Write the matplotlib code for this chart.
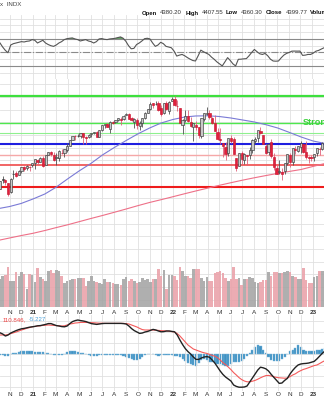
import numpy as np
import pandas as pd
import matplotlib
matplotlib.use('Agg')
import matplotlib.pyplot as plt

plt.rcParams['font.family'] = ['Liberation Sans', 'DejaVu Sans']

BASE = pd.Timestamp('2021-01-01')
FIRST_WEEK = '2020-10-07'

# weekly OHLC, Oct 2020 .. Jan 2023
opens = [3350, 3500, 3494, 3441, 3297, 3583, 3600, 3566, 3634, 3694, 3675, 3694, 3723,
         3764, 3803, 3781, 3836, 3731, 3892, 3939, 3886, 3842, 3844, 3913, 3917, 3969,
         4034, 4125, 4179, 4185, 4192, 4228, 4169, 4170, 4216, 4229, 4248, 4173, 4285,
         4356, 4372, 4296, 4409, 4406, 4438, 4462, 4450, 4514, 4535, 4474, 4403, 4442,
         4349, 4385, 4464, 4553, 4610, 4701, 4689, 4712, 4628, 4548, 4711, 4587, 4733,
         4778, 4655, 4632, 4357, 4431, 4506, 4412, 4332, 4354, 4327, 4188, 4462, 4541,
         4547, 4474, 4385, 4255, 4131, 4081, 4013, 3920, 4149, 4134, 3838, 3715, 3920,
         3800, 3880, 3883, 3965, 4112, 4155, 4270, 4195, 4034, 3930, 4084, 3849, 3683,
         3610, 3619, 3638, 3755, 3882, 3781, 3977, 3956, 4005, 4053, 3940, 3853, 3843,
         3853, 3910, 3987, 3979, 4071]
highs = [3482, 3550, 3502, 3441, 3529, 3646, 3628, 3644, 3699, 3713, 3726, 3711, 3760,
         3827, 3823, 3860, 3870, 3887, 3935, 3950, 3929, 3915, 3960, 3983, 3978, 4083,
         4130, 4191, 4194, 4218, 4238, 4237, 4188, 4218, 4234, 4255, 4262, 4286, 4356,
         4372, 4394, 4416, 4430, 4441, 4470, 4480, 4513, 4545, 4549, 4492, 4466, 4466,
         4416, 4475, 4560, 4608, 4718, 4708, 4743, 4744, 4672, 4713, 4731, 4740, 4808,
         4818, 4749, 4632, 4453, 4595, 4590, 4490, 4385, 4416, 4327, 4465, 4546, 4637,
         4593, 4480, 4513, 4308, 4308, 4081, 4090, 4158, 4204, 4168, 3838, 3913, 3946,
         3919, 3880, 4012, 4140, 4167, 4280, 4325, 4203, 4062, 4077, 4140, 3912, 3733,
         3806, 3685, 3762, 3905, 3911, 4001, 4028, 4034, 4101, 4053, 4101, 3876, 3878,
         3906, 4003, 4015, 4095, 4195]
lows = [3341, 3442, 3413, 3234, 3280, 3511, 3543, 3565, 3594, 3633, 3648, 3636, 3703,
        3663, 3749, 3780, 3694, 3725, 3880, 3865, 3789, 3723, 3795, 3894, 3853, 3936,
        4034, 4119, 4118, 4164, 4157, 4057, 4061, 4161, 4168, 4218, 4165, 4165, 4271,
        4309, 4327, 4233, 4373, 4385, 4416, 4367, 4443, 4513, 4457, 4427, 4306, 4289,
        4279, 4329, 4447, 4546, 4596, 4630, 4672, 4585, 4495, 4532, 4600, 4532, 4733,
        4662, 4582, 4395, 4222, 4413, 4401, 4327, 4114, 4279, 4157, 4161, 4424, 4517,
        4450, 4381, 4267, 4124, 4062, 3859, 3811, 3875, 4074, 3900, 3637, 3705, 3741,
        3743, 3722, 3818, 3913, 4080, 4087, 4218, 4057, 3907, 3886, 3838, 3647, 3584,
        3591, 3491, 3590, 3735, 3698, 3733, 3906, 3938, 3918, 3918, 3827, 3764, 3784,
        3794, 3877, 3885, 3961, 4049]
closes = [3477, 3484, 3465, 3270, 3510, 3585, 3558, 3638, 3699, 3663, 3709, 3703, 3756,
          3825, 3768, 3841, 3714, 3887, 3934, 3907, 3811, 3842, 3943, 3913, 3975, 4020,
          4129, 4185, 4180, 4181, 4232, 4174, 4156, 4204, 4230, 4247, 4166, 4281, 4352,
          4370, 4327, 4412, 4395, 4437, 4468, 4442, 4509, 4535, 4459, 4433, 4455, 4357,
          4391, 4471, 4545, 4605, 4697, 4683, 4698, 4595, 4538, 4712, 4620, 4726, 4766,
          4677, 4662, 4398, 4432, 4500, 4419, 4349, 4385, 4329, 4204, 4463, 4543, 4546,
          4488, 4392, 4272, 4132, 4123, 4024, 3901, 4158, 4108, 3901, 3675, 3911, 3825,
          3899, 3863, 3962, 4130, 4145, 4280, 4228, 4058, 3924, 4067, 3873, 3693, 3586,
          3640, 3583, 3753, 3901, 3771, 3993, 3965, 4027, 4071, 3934, 3852, 3845, 3840,
          3895, 3999, 3973, 4071, 4136]

# weekly volume, billions of shares
volume = [14.0, 15.6, 16.0, 19.8, 13.2, 13.2, 17.6, 15.4, 17.6, 16.5,
          9.0, 16.5, 16.0, 12.4, 19.6, 14.8, 14.0, 13.2, 18.2, 18.6,
          17.0, 18.5, 18.0, 15.6, 12.0, 13.2, 13.6, 14.0, 14.0, 14.4,
          14.4, 14.4, 10.4, 13.2, 15.4, 13.0, 12.4, 12.0, 11.5, 14.0,
          12.6, 12.4, 12.0, 11.6, 11.5, 11.0, 14.0, 14.8, 13.0, 14.0,
          13.2, 11.8, 12.6, 14.5, 13.5, 14.0, 12.6, 14.0, 14.0, 19.0,
          15.6, 18.5, 9.0, 16.0, 16.0, 15.4, 13.6, 20.2, 18.2, 15.6,
          15.4, 14.4, 19.0, 19.0, 19.0, 14.4, 13.2, 15.2, 13.2, 13.2,
          17.0, 17.4, 18.2, 17.0, 14.5, 13.2, 14.0, 20.2, 14.0, 14.5,
          11.0, 14.0, 14.0, 14.8, 14.4, 12.4, 12.0, 12.4, 13.6, 13.6,
          17.6, 15.4, 17.6, 17.4, 16.8, 17.0, 17.6, 18.2, 17.4, 15.6,
          14.8, 14.0, 14.0, 19.4, 13.6, 12.0, 12.0, 14.8, 15.4, 18.2,
          18.2, 15.5]

rsi = [64, 58, 53, 49.5, 61, 63, 64, 65, 66, 65.5,
       66.5, 67, 69, 68, 64, 66, 68, 64, 61.7, 60,
       59, 61, 64, 66, 69, 70.4, 71, 71.5, 70, 69,
       67, 68, 69, 67, 66, 64, 66, 70, 70.5, 69.5,
       69, 70, 70.4, 71, 72, 73, 71, 66.5, 60, 55.4,
       56, 61.7, 64, 67, 70.4, 71, 70, 64, 59, 61,
       65, 63, 59, 58, 56.9, 52, 44.6, 46, 47, 45,
       42.3, 40, 38, 37.3, 45, 53.4, 51, 49, 47, 43,
       39.8, 36, 33, 30, 36, 42.3, 38, 33, 30, 39.8,
       40, 40.5, 40.8, 45, 50, 54.4, 51, 48, 47, 48.5,
       45, 40, 37.3, 37, 37.3, 42, 46, 48.5, 50, 51.9,
       52, 51.9, 52, 45.6, 46, 47, 47, 49, 51.9, 53,
       55, 56.9]

macd = [96, 90, 80, 85, 95, 101, 107, 112, 116, 118,
        121, 124, 126, 128, 131, 132, 135, 138, 142, 142,
        137, 132, 130, 127, 126, 130, 142, 152, 157, 160,
        157, 155, 152, 147, 142, 140, 138, 140, 142, 143,
        143, 143, 143, 143, 143, 143, 142, 140, 130, 117,
        107, 100, 93, 95, 100, 103, 108, 113, 110, 105,
        101, 102, 105, 105, 103, 101, 85, 60, 37, 17,
        2, -10, -25, -37, -37, -30, -25, -23, -26, -40,
        -55, -75, -95, -112, -125, -135, -145, -165, -172, -176,
        -176, -175, -170, -150, -130, -110, -90, -76, -79, -84,
        -95, -112, -127, -142, -157, -155, -142, -132, -110, -92,
        -77, -65, -60, -58, -57, -55, -51, -47, -35, -21,
        -7, 5]
signal = [85, 85, 85, 87, 92, 96, 100, 105, 110, 114,
          119, 122, 126, 128, 130, 131, 133, 134, 135, 134,
          133, 132, 131, 130, 131, 135, 140, 142, 145, 146,
          148, 148, 148, 147, 147, 146, 145, 144, 144, 143,
          143, 143, 143, 143, 143, 143, 143, 142, 140, 135,
          130, 125, 118, 112, 110, 110, 110, 110, 109, 108,
          107, 106, 105, 104, 102, 100, 92, 80, 65, 50,
          35, 25, 15, 10, 5, 0, -4, -7, -12, -17,
          -21, -28, -40, -53, -63, -75, -88, -103, -115, -128,
          -138, -145, -149, -149, -146, -142, -136, -129, -123, -118,
          -117, -120, -124, -127, -129, -130, -131, -130, -123, -115,
          -109, -100, -93, -87, -83, -78, -73, -68, -65, -58,
          -50, -43]
hist = [-0.5, -1, -2, -2, 0.5, 1, 1.5, 2.5, 3, 3.3,
        3.3, 3, 3, 2.5, 2, 2, 1.7, 1.5, 1, 0,
        -0.5, -0.7, -0.7, -0.5, 0.5, 2, 3, 3.3, 3, 2.5,
        1.5, 1, 0.5, -0.5, -1.5, -1.7, -1.5, -1, -0.7, -0.5,
        -1, -1, -1, -0.7, -0.5, -0.5, -1.5, -3, -4, -5.3,
        -6, -6.3, -5, -3, -0.5, 0.3, 0.3, 0, -1, -1.7,
        -1.2, -0.8, -0.7, -0.8, -1, -1.5, -2.3, -3, -5, -7,
        -8.5, -9.5, -10.5, -11.7, -9, -5.7, -5, -5.5, -7.5, -8.3,
        -9, -9.5, -10, -10.7, -11.5, -12.3, -10, -8, -8, -7.5,
        -7, -5, -2.3, 1, 4.3, 7, 9.3, 8, 4.3, 1,
        -3, -5.7, -6.5, -7.3, -6.5, -5, -2.5, 0, 3, 4.3,
        6.5, 8.7, 7, 4.5, 3, 3, 3, 3.3, 4, 4.3,
        5, 6]

# moving averages, sampled at month starts
ma_dates = ['2020-10-07', '2020-11-01', '2020-12-01', '2021-01-01', '2021-02-01',
            '2021-03-01', '2021-04-01', '2021-05-01', '2021-06-01', '2021-07-01',
            '2021-08-01', '2021-09-01', '2021-10-01', '2021-11-01', '2021-12-01',
            '2022-01-01', '2022-02-01', '2022-03-01', '2022-04-01', '2022-05-01',
            '2022-06-01', '2022-07-01', '2022-08-01', '2022-09-01', '2022-10-01',
            '2022-11-01', '2022-12-01', '2023-01-01', '2023-02-01']
ma_fast = [3044, 3072, 3120, 3191, 3270, 3372, 3507, 3633, 3752, 3886,
           4004, 4115, 4218, 4312, 4391, 4447, 4486, 4502, 4505, 4494,
           4470, 4439, 4407, 4363, 4312, 4241, 4170, 4107, 4068]
ma_slow = [2543, 2575, 2613, 2649, 2693, 2737, 2783, 2832, 2883, 2930,
           2981, 3033, 3085, 3136, 3180, 3227, 3275, 3317, 3362, 3406,
           3448, 3488, 3526, 3562, 3595, 3627, 3657, 3705, 3752]

# support / resistance levels
levels = [4820, 4387, 4229, 4055, 3886, 3733, 3376]
level_colors = ['#3ee03e', '#4ee84e', '#8ef08e', '#1f1fe0', '#f5a8a8', '#f05858', '#ee1c1c']
level_widths = [1.6, 1.0, 0.8, 1.5, 1.0, 1.3, 1.5]

header = [('Open', True), ('4380.20', False), ('High', True), ('4407.55', False),
          ('Low', True), ('4360.30', False), ('Close', True), ('4399.77', False),
          ('Volume', True)]

week_dt = pd.date_range(FIRST_WEEK, periods=len(closes), freq='7D')
wx = np.asarray((week_dt - BASE).days, dtype=float)
ma_x = np.asarray((pd.to_datetime(ma_dates) - BASE).days, dtype=float)
months = pd.date_range('2020-11-01', '2023-02-01', freq='MS')
mx = np.asarray((months - BASE).days, dtype=float)
mlabels = [m.strftime('%y') if m.month == 1 else m.strftime('%b')[0] for m in months]

XLIM = (-86, 758.6)
GRID = '#e0e0e0'
H = 400.0

fig = plt.figure(figsize=(3.24, 4.0), dpi=100)


def panel(top, bottom):
    ax = fig.add_axes([0, 1 - bottom / H, 1, (bottom - top) / H])
    ax.set_xlim(*XLIM)
    for s in ax.spines.values():
        s.set_visible(False)
    ax.set_xticks(mx)
    ax.tick_params(length=0, labelsize=4.6, colors='#333333')
    ax.grid(axis='x', color=GRID, lw=0.6)
    ax.set_axisbelow(True)
    ax.set_yticklabels([])
    return ax


def month_labels(ax, pad):
    ax.set_xticklabels(mlabels)
    ax.tick_params(axis='x', pad=pad)
    for lab in ax.get_xticklabels():
        if lab.get_text().isdigit():
            lab.set_fontweight('bold')


def text_run(x, y, parts, size, gap=2.2):
    # lay out text pieces one after another on a line
    prev = None
    for txt, color, bold in parts:
        kw = dict(fontsize=size, color=color, fontweight='bold' if bold else 'normal',
                  va='center', ha='left')
        if prev is None:
            prev = fig.text(x / 324, 1 - y / H, txt, **kw)
        else:
            prev = fig.add_artist(plt.Annotation(txt, xy=(1, 0.5), xycoords=prev,
                                                 xytext=(gap, 0), textcoords='offset points',
                                                 **kw))


# RSI panel
ax_r = panel(15, 79)
ax_r.set_ylim(10.6, 105.5)
ax_r.set_yticks(np.arange(20, 101, 10))
ax_r.grid(axis='y', color=GRID, lw=0.6)
ax_r.set_xticklabels([])
for lv, ls in [(70, '-'), (30, '-'), (50, '-.')]:
    ax_r.axhline(lv, color='#8a8a8a', lw=0.8, ls=ls)
rsi_a = np.array(rsi)
ax_r.fill_between(wx, rsi_a, 70, where=rsi_a > 70, interpolate=True, color='#5c9e5c', lw=0)
ax_r.plot(wx, rsi_a, color='#555555', lw=0.8)

# price panel
ax_p = panel(79, 307)
ax_p.set_ylim(1485, 5086)
ax_p.set_yticks(np.arange(1600, 5001, 200))
ax_p.grid(axis='y', color=GRID, lw=0.6)
month_labels(ax_p, 2.0)

ax_v = ax_p.twinx()
ax_v.set_ylim(0, 114)
ax_v.set_xlim(*XLIM)
ax_v.axis('off')
prev_close = np.r_[closes[0], closes[:-1]]
vcol = ['#a6a6a6' if c >= p else '#eaa3ab' for c, p in zip(closes, prev_close)]
ax_v.bar(wx, volume, width=6.6, color=vcol, edgecolor='none', alpha=0.9, zorder=1)

ax_c = ax_p.twinx()
ax_c.set_ylim(1485, 5086)
ax_c.set_xlim(*XLIM)
ax_c.axis('off')
for lv, c, w in zip(levels, level_colors, level_widths):
    ax_c.axhline(lv, color=c, lw=w, zorder=2)
ax_c.plot(ma_x, ma_fast, color='#7a7ad6', lw=0.8, zorder=3)
ax_c.plot(ma_x, ma_slow, color='#ee7088', lw=0.8, zorder=3)

for x, op, hi, lo, cl, pc in zip(wx, opens, highs, lows, closes, prev_close):
    down = cl < pc
    edge = '#c81832' if down else '#3a3a3a'
    ax_c.vlines(x, lo, hi, color='#e0607a' if down else '#505050', lw=0.6, zorder=4)
    face = ('#e0203c' if down else '#555555') if cl < op else '#c9c9c9'
    ax_c.bar(x, max(abs(cl - op), 10), bottom=min(op, cl), width=5.8,
             color=face, edgecolor=edge, lw=0.45, zorder=5)

ax_c.text(704, 4400, 'Strong', color='#3ed23e', fontsize=6.6, fontweight='bold',
          va='center', ha='left', zorder=6)

# MACD panel
ax_m = panel(315, 391)
ax_m.set_ylim(-195, 185)
ax_m.set_yticks([])
month_labels(ax_m, 1.0)
ax_h = ax_m.twinx()
ax_h.set_ylim(-37, 39)
ax_h.set_xlim(*XLIM)
for s in ax_h.spines.values():
    s.set_visible(False)
ax_h.set_yticks(np.arange(-33, 34, 11))
ax_h.tick_params(length=0, labelright=False)
ax_h.grid(axis='y', color=GRID, lw=0.6)
ax_h.set_axisbelow(True)
ax_h.bar(wx, hist, width=5.6, color='#3f92c4', edgecolor='#7ab6da', lw=0.3)
ax_m.set_zorder(ax_h.get_zorder() + 1)
ax_m.patch.set_visible(False)
ax_m.plot(wx, signal, color='#f45a5a', lw=0.8, zorder=3)
ax_m.plot(wx, macd, color='#222222', lw=1.0, zorder=4)

text_run(2.5, 319.5, [('110.846,', '#ee4444', False), ('-5.227', '#4aa0d8', False)], 4.4)

# header line
fig.text(0, 1 - 5 / H, 'x  INDX', fontsize=4.4, color='#444444', va='center')
text_run(142, 13, [(t, '#111111' if b else '#333333', b) for t, b in header], 4.3)

fig.savefig('out.png', dpi=100)
